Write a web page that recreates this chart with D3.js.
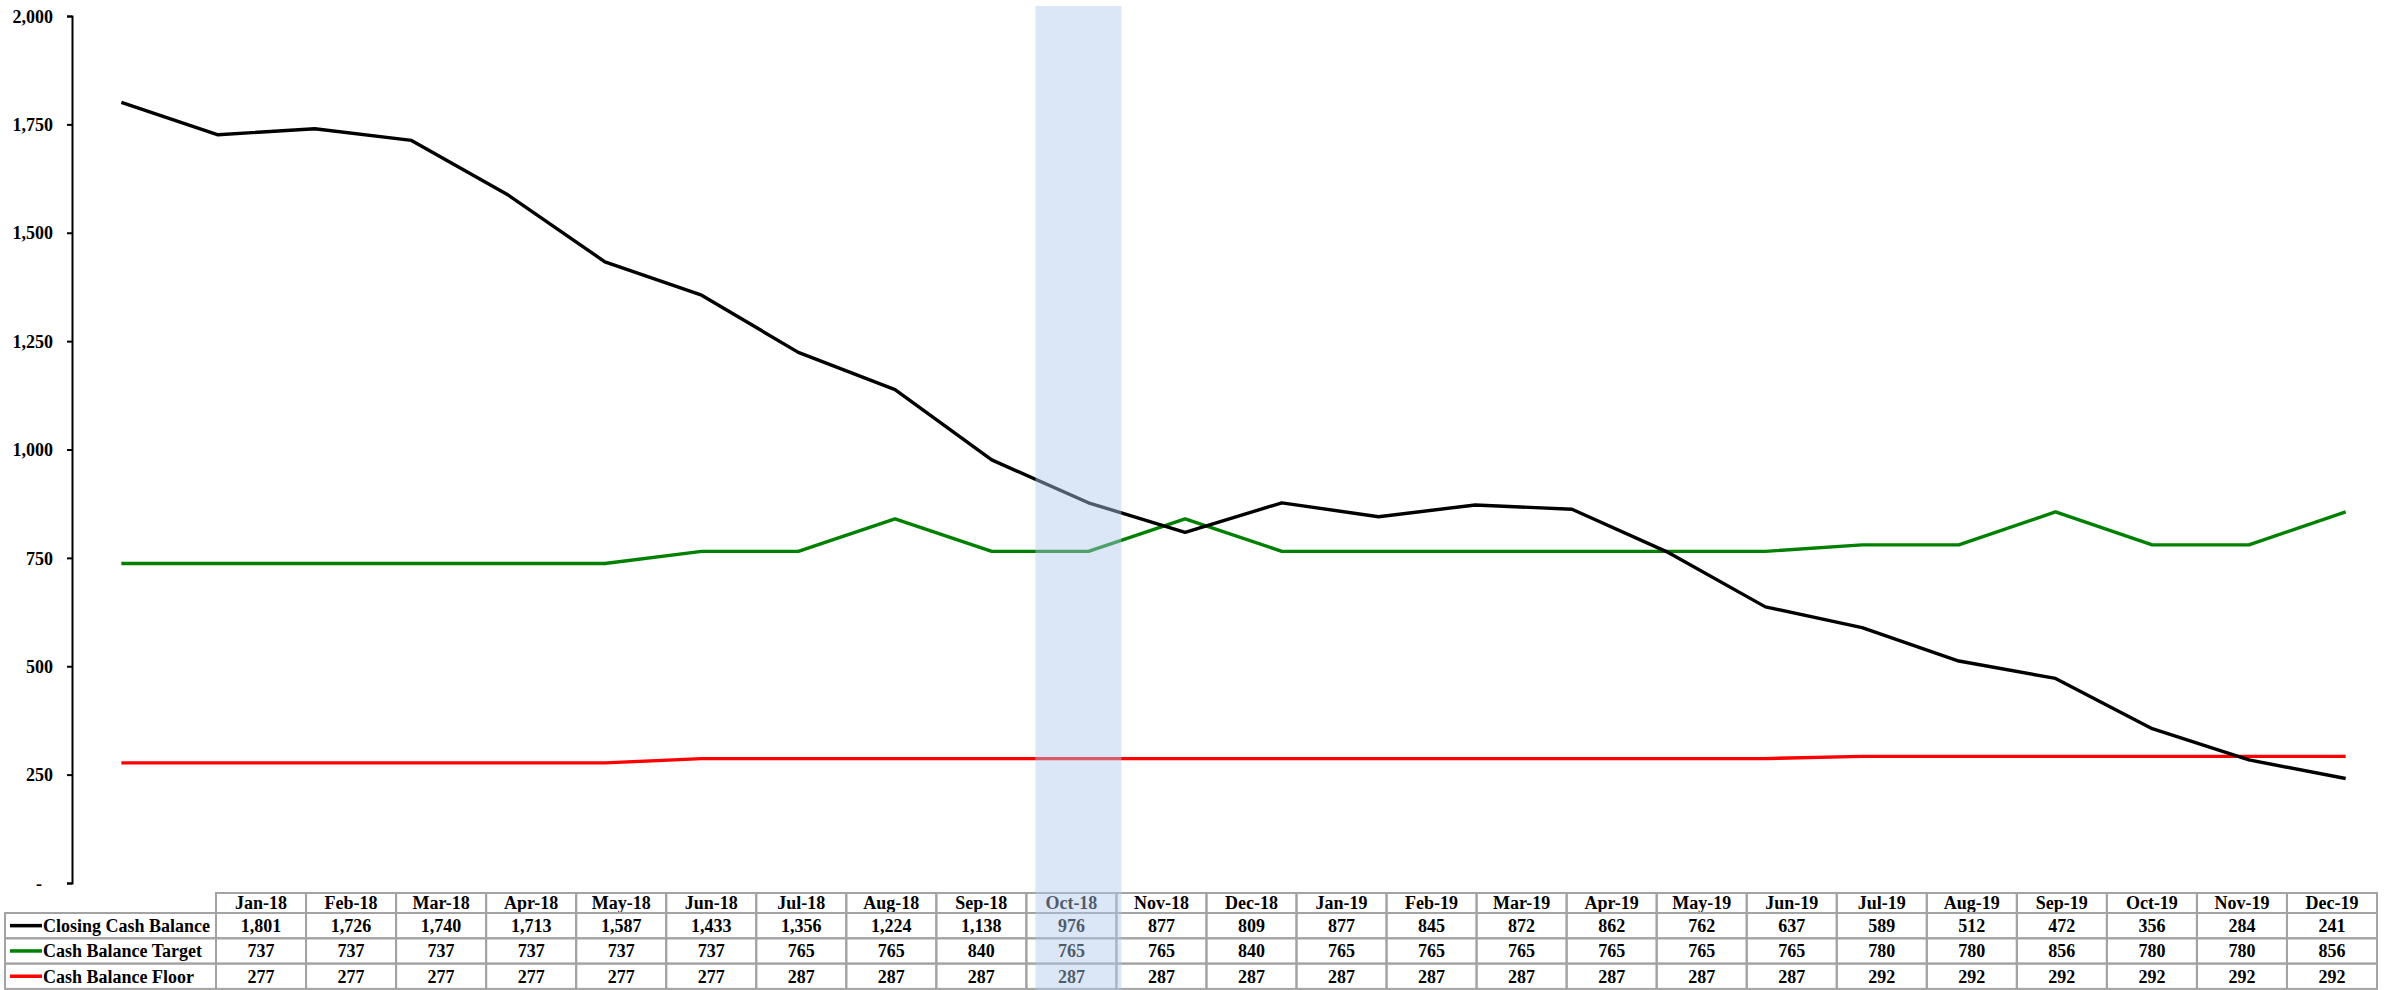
<meta charset="utf-8">
<html>
<head>
<title>Cash Balance</title>
<style>
  body { margin: 0; background: #fff; }
  svg { display: block; }
  .axis text { font: bold 18px "Liberation Serif", "Times New Roman", serif; fill: #000; }
  .axis path, .axis line { stroke: #000; stroke-width: 2px; }
  .cell { fill: none; stroke: #a3a3a3; stroke-width: 2px; }
  .celltext { font: bold 18px "Liberation Serif", "Times New Roman", serif; fill: #000; text-anchor: middle; }
  .legtext { font: bold 18px "Liberation Serif", "Times New Roman", serif; fill: #000; }
</style>
</head>
<body>
<svg width="2399" height="990"></svg>

<script src="https://d3js.org/d3.v7.min.js"></script>
<script>

var months = ["Jan-18","Feb-18","Mar-18","Apr-18","May-18","Jun-18","Jul-18","Aug-18","Sep-18","Oct-18","Nov-18","Dec-18",
              "Jan-19","Feb-19","Mar-19","Apr-19","May-19","Jun-19","Jul-19","Aug-19","Sep-19","Oct-19","Nov-19","Dec-19"];

var closing = [1801,1726,1740,1713,1587,1433,1356,1224,1138,976,877,809,877,845,872,862,762,637,589,512,472,356,284,241];
var target  = [737,737,737,737,737,737,765,765,840,765,765,840,765,765,765,765,765,765,780,780,856,780,780,856];
var floor   = [277,277,277,277,277,277,287,287,287,287,287,287,287,287,287,287,287,287,292,292,292,292,292,292];

var seriesNames  = ["Closing Cash Balance","Cash Balance Target","Cash Balance Floor"];
var seriesColors = ["#000000","#008000","#ff0000"];
var yTicks = [0,250,500,750,1000,1250,1500,1750,2000];
var highlight = "Oct-18";

var svg = d3.select("svg");

// plot scales
var x = d3.scaleBand().domain(months).range([73, 2394]),
    y = d3.scaleLinear().domain([0, 2000]).range([883, 16]);

// table columns (they do not sit under the plot points)
var tx = d3.scaleBand().domain(months).range([216, 2377]);

var fmt = d3.format(",");

svg.append("g")
    .attr("class", "axis")
    .attr("transform", "translate(72,0)")
    .call(d3.axisLeft(y).tickValues(yTicks).tickSize(5).tickSizeOuter(5)
        .tickFormat(function(d) { return d === 0 ? "-" : fmt(d); }))
    .call(function(g) {
      g.selectAll(".tick text").attr("x", -19).attr("dy", "0.34em");
      g.selectAll(".tick").filter(function(d) { return d === 0; }).select("text").attr("x", -30);
    });

var line = d3.line()
    .x(function(d, i) { return x(months[i]) + x.bandwidth() / 2; })
    .y(function(d) { return y(d); });

var allSeries = [closing, target, floor];

// draw floor first, closing on top
[2, 1, 0].forEach(function(k) {
  svg.append("path")
      .datum(allSeries[k])
      .attr("d", line)
      .attr("fill", "none")
      .attr("stroke", seriesColors[k])
      .attr("stroke-width", 3.4)
      .attr("stroke-linejoin", "round");
});

/* data table */
var rowTop = 893, headH = 20, rowH = 25.3;
var tg = svg.append("g");

tg.selectAll(".head")
  .data(months).enter()
  .append("rect")
    .attr("class", "cell")
    .attr("x", function(d) { return tx(d); })
    .attr("y", rowTop)
    .attr("width", tx.bandwidth())
    .attr("height", headH);

tg.selectAll(".headtext")
  .data(months).enter()
  .append("text")
    .attr("class", "celltext")
    .attr("x", function(d) { return tx(d) + tx.bandwidth() / 2; })
    .attr("y", rowTop + headH / 2)
    .attr("dy", "0.35em")
    .text(function(d) { return d; });

allSeries.forEach(function(vals, k) {
  var top = rowTop + headH + k * rowH;

  tg.append("rect")
      .attr("class", "cell")
      .attr("x", 5)
      .attr("y", top)
      .attr("width", 211)
      .attr("height", rowH);

  tg.append("line")
      .attr("x1", 10).attr("x2", 42)
      .attr("y1", top + rowH / 2).attr("y2", top + rowH / 2)
      .attr("stroke", seriesColors[k])
      .attr("stroke-width", 3.5);

  tg.append("text")
      .attr("class", "legtext")
      .attr("x", 43)
      .attr("y", top + rowH / 2)
      .attr("dy", "0.35em")
      .text(seriesNames[k]);

  tg.selectAll(".r" + k)
    .data(vals).enter()
    .append("rect")
      .attr("class", "cell")
      .attr("x", function(d, i) { return tx(months[i]); })
      .attr("y", top)
      .attr("width", tx.bandwidth())
      .attr("height", rowH);

  tg.selectAll(".t" + k)
    .data(vals).enter()
    .append("text")
      .attr("class", "celltext")
      .attr("x", function(d, i) { return tx(months[i]) + tx.bandwidth() / 2; })
      .attr("y", top + rowH / 2)
      .attr("dy", "0.35em")
      .text(function(d) { return fmt(d); });
});

// highlighted month, laid over everything
svg.append("rect")
    .attr("x", tx(highlight) + 9)
    .attr("y", 6)
    .attr("width", tx.bandwidth() - 4)
    .attr("height", 990 - 6)
    .attr("fill", "#b0c8ea")
    .attr("opacity", 0.45);

</script>
</body>
</html>
